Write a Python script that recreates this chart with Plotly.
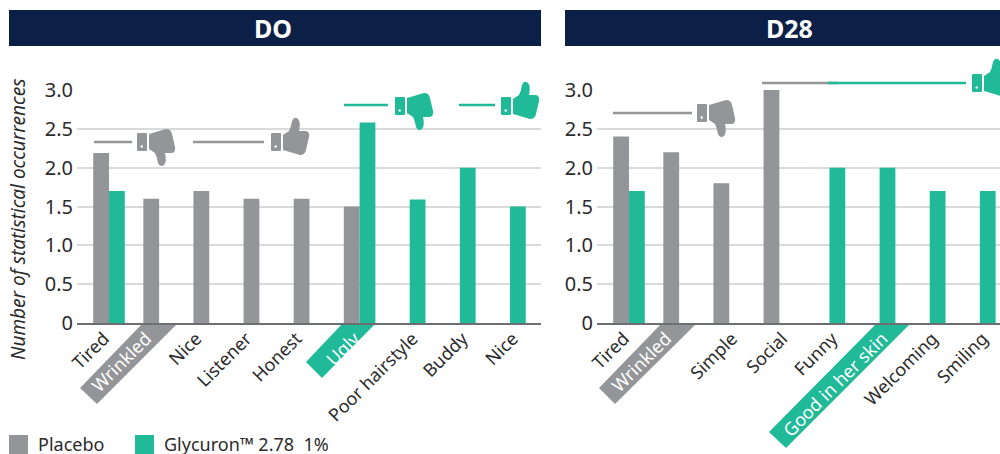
import plotly.graph_objects as go

W, H = 1000, 454
CAT_D0 = ["Tired", "Wrinkled", "Nice", "Listener", "Honest", "Ugly", "Poor hairstyle", "Buddy", "Nice "]
PLACEBO_D0 = [2.19, 1.6, 1.7, 1.6, 1.6, 1.5, None, None, None]
GLY_D0 = [1.7, None, None, None, None, 2.58, 1.59, 2.0, 1.5]
SLOT_D0 = [0, -1, -1, -1, -1, 0, 1, 1, 1]
CAT_D28 = ["Tired", "Wrinkled", "Simple", "Social", "Funny", "Good in her skin", "Welcoming", "Smiling"]
PLACEBO_D28 = [2.4, 2.2, 1.8, 3.0, None, None, None, None]
GLY_D28 = [1.7, None, None, None, 2.0, 2.0, 1.7, 1.7]
SLOT_D28 = [0, -1, 1, 1, 1, 1, 1, 1]
Y_TICKS = [0, 0.5, 1, 1.5, 2, 2.5, 3]
Y_LABELS = ["0", "0.5", "1.0", "1.5", "2.0", "2.5", "3.0"]
GRAY, GREEN, NAVY = "#939598", "#20BA98", "#0B1F47"
FONT = "Noto Sans"
TXT = "#2b2b2b"

def fx(x): return x / W
def fy(y): return 1 - y / H

def poly(pts, color, layer="below"):
    d = "M" + " L".join(f"{fx(x):.5f},{fy(y):.5f}" for x, y in pts) + " Z"
    return dict(type="path", xref="paper", yref="paper", path=d, fillcolor=color,
                line=dict(width=0), layer=layer)

def hline(x0, x1, y, color):
    return dict(type="line", xref="paper", yref="paper", x0=fx(x0), x1=fx(x1), y0=fy(y), y1=fy(y),
                line=dict(color=color, width=2.5), layer="above")

def thumb(x, yc, up, color):
    s = 1 if up else -1
    out = []
    def P(cmds):
        parts = []
        for c in cmds:
            if isinstance(c, str):
                parts.append(c)
            else:
                parts.append(f"{fx(x + c[0]):.5f},{fy(yc + s * c[1]):.5f}")
        return " ".join(parts)
    cuff = P(["M", (1, -9), "L", (9, -9), "Q", (10, -9), (10, -8), "L", (10, 8), "Q", (10, 9), (9, 9),
              "L", (1, 9), "Q", (0, 9), (0, 8), "L", (0, -8), "Q", (0, -9), (1, -9), "Z"])
    hand = P(["M", (12, -7), "L", (18, -11), "Q", (20, -15), (21, -21), "Q", (23, -26), (27, -23),
              "Q", (30, -20), (28, -11), "L", (35, -11), "Q", (39, -10), (38, -5),
              "L", (35, 8), "Q", (34, 13), (29, 13), "L", (12, 8), "Z"])
    out.append(dict(type="path", xref="paper", yref="paper", path=cuff, fillcolor=color, line=dict(width=0), layer="above"))
    out.append(dict(type="path", xref="paper", yref="paper", path=hand, fillcolor=color, line=dict(width=0), layer="above"))
    cx, cy = x + 4.7, yc + 4.5
    out.append(dict(type="circle", xref="paper", yref="paper", x0=fx(cx - 1.2), x1=fx(cx + 1.2),
                    y0=fy(cy + 1.2), y1=fy(cy - 1.2), fillcolor="white", line=dict(width=0), layer="above"))
    return out

def ticktext(cats, white):
    return [f'<span style="color:white">{c}</span>' if c.strip() in white else c.strip() for c in cats]

fig = go.Figure()
for xa, ya, cats, pl, gl in [("x", "y", CAT_D0, PLACEBO_D0, GLY_D0), ("x2", "y2", CAT_D28, PLACEBO_D28, GLY_D28)]:
    fig.add_bar(x=cats, y=pl, name="Placebo", marker_color=GRAY, marker_line_width=0, xaxis=xa, yaxis=ya, offsetgroup="p", cliponaxis=False)
    fig.add_bar(x=cats, y=gl, name="Glycuron™ 2.78  1%", marker_color=GREEN, marker_line_width=0, xaxis=xa, yaxis=ya, offsetgroup="g", cliponaxis=False)

STEP = 50.12
BAR_OFFSET = 0.157

yaxis = dict(range=[0, 3], domain=[fy(323), fy(90)], tickvals=Y_TICKS, ticktext=Y_LABELS,
             gridcolor="#DADADA", gridwidth=1.5, zeroline=False, ticks="", ticklabelstandoff=3,
             tickfont=dict(family=FONT, size=20, color=TXT))
def xaxis(cats, slots, white, left, right, c0):
    return dict(domain=[fx(left), fx(right)], type="category", categoryorder="array", categoryarray=cats,
                range=[(left - c0) / STEP, (right - c0) / STEP], tickmode="array",
                tickvals=[i + s * BAR_OFFSET for i, s in enumerate(slots)], ticktext=ticktext(cats, white),
                tickangle=-45, showgrid=False, ticks="", showline=True, linecolor="#6D6E71", linewidth=2,
                ticklabelshift=-5, ticklabelstandoff=-4,
                tickfont=dict(family=FONT, size=18, color=TXT))

shapes = [
    poly([(143, 323), (178, 323), (97, 404), (80, 388)], GRAY),
    poly([(343, 323), (376, 323), (322, 378), (306, 362)], GREEN),
    poly([(662, 323), (697, 323), (615, 404), (599, 388)], GRAY),
    poly([(877, 323), (911, 323), (786, 448), (769, 432)], GREEN),
    poly([(9, 10), (541, 10), (541, 46), (9, 46)], NAVY),
    poly([(565, 10), (1000, 10), (1000, 46), (565, 46)], NAVY),
    poly([(9, 435), (28, 435), (28, 454), (9, 454)], GRAY),
    poly([(135, 435), (154, 435), (154, 454), (135, 454)], GREEN),
    hline(94, 132, 142, GRAY), hline(193, 264, 142, GRAY),
    hline(344, 388, 105, GREEN), hline(459, 495, 105, GREEN),
    hline(613, 692, 113, GRAY), hline(762, 838, 83, GRAY), hline(828, 966, 83, GREEN),
]
shapes += thumb(137, 142, False, GRAY) + thumb(271, 142, True, GRAY)
shapes += thumb(395, 106, False, GREEN) + thumb(501, 106, True, GREEN)
shapes += thumb(697, 113, False, GRAY) + thumb(972, 83, True, GREEN)

def note(text, x, y, size, color=TXT, anchor="center", **kw):
    return dict(text=text, x=fx(x), y=fy(y), xref="paper", yref="paper", showarrow=False, xanchor=anchor,
                yanchor="middle", font=dict(family=FONT, size=size, color=color), **kw)

annotations = [
    note("<b>DO</b>", 273, 28, 25, "white"),
    note("<b>D28</b>", 789, 28, 25, "white"),
    note("Placebo", 36, 443.5, 18, anchor="left", height=21),
    note("Glycuron™ 2.78  1%", 162, 443.5, 18, anchor="left", height=21),
    note("<i>Number of statistical occurrences</i>", 18, 220, 19, textangle=-90),
]

fig.update_layout(
    width=W, height=H, autosize=False, margin=dict(l=0, r=0, t=0, b=0, autoexpand=False),
    paper_bgcolor="white", plot_bgcolor="white", barmode="group", bargap=0.37, bargroupgap=0,
    showlegend=False, shapes=shapes, annotations=annotations,
    xaxis=xaxis(CAT_D0, SLOT_D0, {"Wrinkled", "Ugly"}, 77, 541, 109),
    xaxis2=xaxis(CAT_D28, SLOT_D28, {"Wrinkled", "Good in her skin"}, 597, 1000, 629),
    yaxis=dict(yaxis, anchor="x"), yaxis2=dict(yaxis, anchor="x2"),
)
fig.write_html("out.html", config=dict(displayModeBar=False),
               post_script="document.body.style.margin='0';document.body.style.overflow='hidden';")
